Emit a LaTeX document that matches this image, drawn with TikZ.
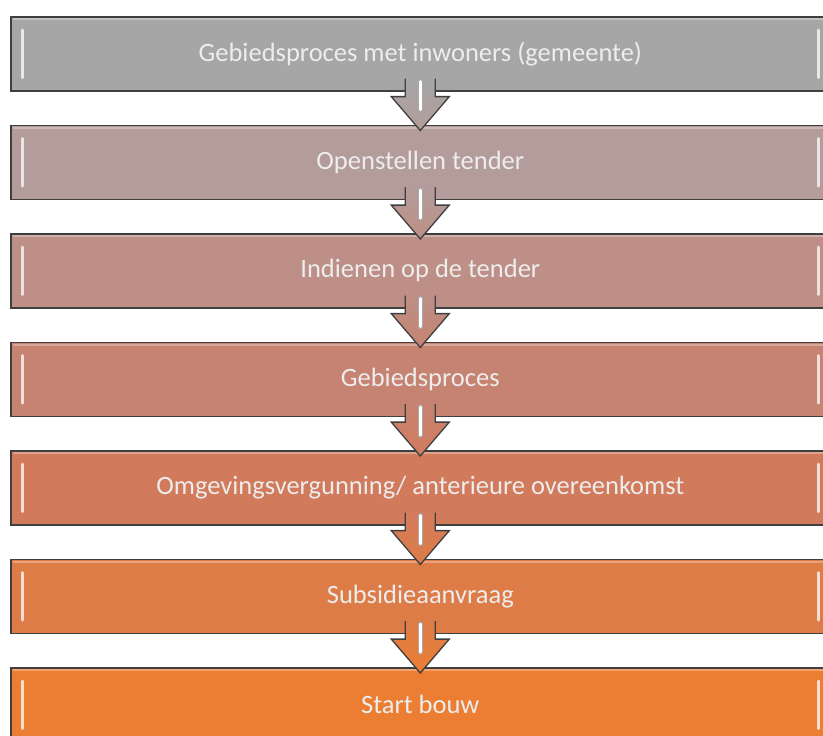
\documentclass[tikz,border=0pt]{standalone}
\usepackage{fontspec}
\setmainfont{Carlito}
\usetikzlibrary{calc}

\definecolor{boxline}{HTML}{3F3F3F}
\definecolor{stepA}{HTML}{A6A6A6}
\definecolor{stepB}{HTML}{B39C9A}
\definecolor{stepC}{HTML}{BD8F86}
\definecolor{stepD}{HTML}{C68371}
\definecolor{stepE}{HTML}{D27B5C}
\definecolor{stepF}{HTML}{DD7C47}
\definecolor{stepG}{HTML}{EB7E32}

\tikzset{
    stepbox/.style={draw=boxline, line width=1.6pt, minimum width=819pt, minimum height=74pt,
        anchor=north west, inner sep=0pt, text=white!93!black, font=\fontsize{26.5}{30}\selectfont},
    shine/.style={white, line width=3pt, line cap=round, opacity=0.75},
    bevel/.style={white, line width=2pt, opacity=0.3},
    arrowedge/.style={draw=boxline, line width=1.3pt, line join=miter},
}

% block arrow from the box #1 down into the box #2
\newcommand{\steparrow}[4]{%
    \path[arrowedge, top color=#3, bottom color=#4]
        ($(#1.south)+(-15,-13)$) -- ($(#1.south)+(-15,5)$) -- ($(#1.south)+(-29,5)$)
        -- ($(#2.north)+(0,6)$) -- ($(#1.south)+(29,5)$) -- ($(#1.south)+(15,5)$)
        -- ($(#1.south)+(15,-13)$);
    \draw[line width=5pt, boxline!45, line cap=round] ($(#1.south)+(0,-10)$) -- ($(#1.south)+(0,18)$);
    \draw[line width=3pt, white, line cap=round] ($(#1.south)+(0,-10)$) -- ($(#1.south)+(0,18)$);
}

\begin{document}
\begin{tikzpicture}[x=1pt, y=-1pt]
    \useasboundingbox (0,0) rectangle (823,736);
    \clip (0,0) rectangle (823,736);
    \foreach \i/\col/\txt in {0/stepA/{Gebiedsproces met inwoners (gemeente)},
            1/stepB/{Openstellen tender}, 2/stepC/{Indienen op de tender},
            3/stepD/{Gebiedsproces}, 4/stepE/{Omgevingsvergunning/ anterieure overeenkomst},
            5/stepF/{Subsidieaanvraag}, 6/stepG/{Start bouw}}
    {
        \node[stepbox, fill=\col] (box\i) at (10, 16+108.5*\i) {\txt};
        \draw[bevel] ($(box\i.north west)+(3,3)$) -- ($(box\i.north east)+(-3,3)$);
        \draw[shine] ($(box\i.north west)+(12,14)$) -- ($(box\i.south west)+(12,-14)$);
        \draw[shine] ($(box\i.north east)+(-12,14)$) -- ($(box\i.south east)+(-12,-14)$);
    }
    \steparrow{box0}{box1}{stepA}{stepB}
    \steparrow{box1}{box2}{stepB}{stepC}
    \steparrow{box2}{box3}{stepC}{stepD}
    \steparrow{box3}{box4}{stepD}{stepE}
    \steparrow{box4}{box5}{stepE}{stepF}
    \steparrow{box5}{box6}{stepF}{stepG}
\end{tikzpicture}
\end{document}
